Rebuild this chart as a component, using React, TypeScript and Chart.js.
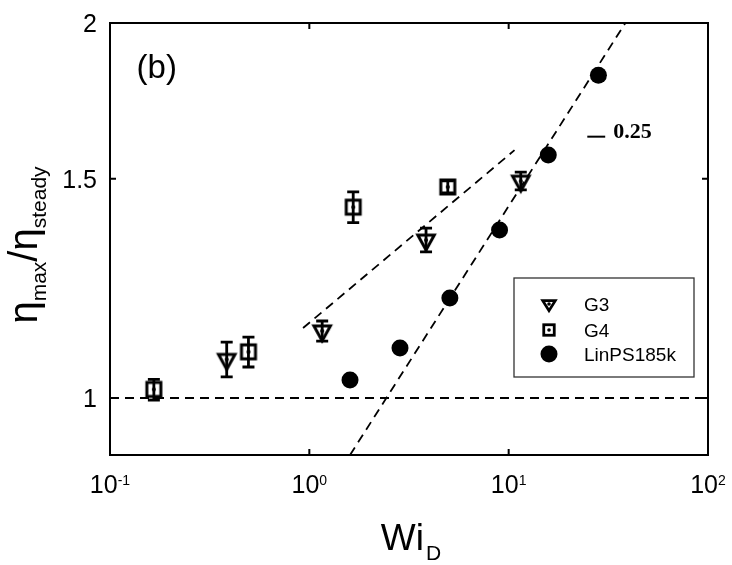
import React, { useEffect, useRef } from 'react';
import { Chart, registerables } from 'chart.js';
Chart.register(...registerables);

// ---- data ----
const g3X = [0.385, 1.16, 3.85, 11.5];
const g3Y = [1.074, 1.132, 1.339, 1.493];
const g3Lo = [1.04, 1.111, 1.31, 1.469];
const g3Hi = [1.109, 1.153, 1.369, 1.518];

const g4X = [0.166, 0.495, 1.66, 4.95];
const g4Y = [1.016, 1.089, 1.423, 1.477];
const g4Lo = [0.996, 1.059, 1.383, 1.461];
const g4Hi = [1.035, 1.119, 1.464, 1.494];

const linX = [1.6, 2.85, 5.07, 9.0, 15.8, 28.2];
const linY = [1.034, 1.097, 1.203, 1.364, 1.567, 1.816];

const refLineX = [0.1, 100];
const refLineY = [1, 1];
const steepFitX = [1.6, 38.5];
const steepFitY = [0.9, 2];
const shallowFitX = [0.93, 10.7];
const shallowFitY = [1.138, 1.581];

const xTickExps = [-1, 0, 1, 2];
const yTicks = [1, 1.5, 2];
const yTickLabels = ['1', '1.5', '2'];

const seriesNames = ['G3', 'G4', 'LinPS185k'];
const panelLabel = '(b)';
const panelLabelAt = [0.136, 1.807];
const slopeLabel = '0.25';
const slopeDashX = [24.8, 30.5];
const slopeLabelAt = [33.5, 1.618];

const SANS = '"Liberation Sans", Arial, sans-serif';
const SERIF = '"Liberation Serif", "Times New Roman", serif';

function pts(xs: number[], ys: number[]) {
  return xs.map((x, i) => ({ x, y: ys[i] }));
}

function makeTriangle(w: number, h: number, lw: number, dotR: number) {
  const c = document.createElement('canvas');
  const size = 2 * Math.ceil((h * 2 + lw * 2 + 4) / 2);
  c.width = size; c.height = size;
  const ctx = c.getContext('2d')!;
  const cx = size / 2, cy = size / 2;
  ctx.lineWidth = lw; ctx.strokeStyle = '#000'; ctx.lineJoin = 'miter';
  ctx.beginPath();
  ctx.moveTo(cx - w / 2, cy - h / 3);
  ctx.lineTo(cx + w / 2, cy - h / 3);
  ctx.lineTo(cx, cy + (2 * h) / 3);
  ctx.closePath();
  ctx.stroke();
  ctx.fillStyle = '#000';
  ctx.beginPath(); ctx.arc(cx, cy, dotR, 0, Math.PI * 2); ctx.fill();
  return c;
}

function makeSquare(s: number, lw: number, dotR: number) {
  const c = document.createElement('canvas');
  const size = 2 * Math.ceil((s + lw * 2 + 4) / 2);
  c.width = size; c.height = size;
  const ctx = c.getContext('2d')!;
  const cx = size / 2, cy = size / 2;
  ctx.lineWidth = lw; ctx.strokeStyle = '#000'; ctx.lineJoin = 'miter';
  ctx.strokeRect(cx - s / 2, cy - s / 2, s, s);
  ctx.fillStyle = '#000';
  ctx.beginPath(); ctx.arc(cx, cy, dotR, 0, Math.PI * 2); ctx.fill();
  return c;
}

export default function App() {
  const ref = useRef<HTMLCanvasElement>(null);
  useEffect(() => {
    const triImg = makeTriangle(16.5, 15, 3, 2);
    const sqImg = makeSquare(14, 3, 2);
    const triLeg = makeTriangle(12.5, 10, 2.8, 1.8);
    const sqLeg = makeSquare(10.5, 2.8, 1.8);

    const errBars = [
      { idx: 0, lo: g3Lo, hi: g3Hi },
      { idx: 1, lo: g4Lo, hi: g4Hi },
    ];

    const plugin = {
      id: 'custom',
      beforeDatasetsDraw(chart: any) {
        const ctx = chart.ctx;
        const xs = chart.scales.x, ys = chart.scales.y;
        ctx.save();
        ctx.strokeStyle = '#000';
        ctx.lineWidth = 2.8;
        errBars.forEach((e) => {
          const data = chart.data.datasets[e.idx].data;
          data.forEach((p: any, i: number) => {
            const px = xs.getPixelForValue(p.x);
            const y1 = ys.getPixelForValue(e.lo[i]);
            const y2 = ys.getPixelForValue(e.hi[i]);
            ctx.beginPath();
            ctx.moveTo(px, y1); ctx.lineTo(px, y2);
            ctx.moveTo(px - 6, y1); ctx.lineTo(px + 6, y1);
            ctx.moveTo(px - 6, y2); ctx.lineTo(px + 6, y2);
            ctx.stroke();
          });
        });
        ctx.restore();
      },
      afterDraw(chart: any) {
        const ctx = chart.ctx;
        const a = chart.chartArea;
        const xs = chart.scales.x, ys = chart.scales.y;
        ctx.save();
        // frame
        ctx.strokeStyle = '#000';
        ctx.lineWidth = 2;
        ctx.strokeRect(a.left, a.top, a.right - a.left, a.bottom - a.top);
        // ticks
        const tl = 6;
        ctx.beginPath();
        xTickExps.forEach((e) => {
          const px = xs.getPixelForValue(Math.pow(10, e));
          ctx.moveTo(px, a.bottom); ctx.lineTo(px, a.bottom - tl);
          ctx.moveTo(px, a.top); ctx.lineTo(px, a.top + tl);
        });
        yTicks.forEach((v) => {
          const py = ys.getPixelForValue(v);
          ctx.moveTo(a.left, py); ctx.lineTo(a.left + tl, py);
          ctx.moveTo(a.right, py); ctx.lineTo(a.right - tl, py);
        });
        ctx.stroke();
        // x tick labels
        ctx.fillStyle = '#000';
        ctx.textBaseline = 'alphabetic';
        ctx.textAlign = 'left';
        xTickExps.forEach((e) => {
          const px = xs.getPixelForValue(Math.pow(10, e));
          ctx.font = `25px ${SANS}`;
          const w1 = ctx.measureText('10').width;
          ctx.font = `14px ${SANS}`;
          const sup = String(e);
          const w2 = ctx.measureText(sup).width;
          const x0 = px - (w1 + w2) / 2;
          ctx.font = `25px ${SANS}`;
          ctx.fillText('10', x0, a.bottom + 38);
          ctx.font = `14px ${SANS}`;
          ctx.fillText(sup, x0 + w1, a.bottom + 30);
        });
        // y tick labels
        ctx.font = `25px ${SANS}`;
        ctx.textAlign = 'right';
        yTicks.forEach((v, i) => {
          const py = ys.getPixelForValue(v);
          ctx.fillText(yTickLabels[i], a.left - 13, py + 9);
        });
        // x title Wi_D
        ctx.textAlign = 'left';
        ctx.font = `37px ${SANS}`;
        const wW = ctx.measureText('Wi').width;
        ctx.font = `21px ${SANS}`;
        const wD = ctx.measureText('D').width;
        const cxT = (a.left + a.right) / 2 + 2;
        const xt0 = cxT - (wW + wD + 2) / 2;
        ctx.font = `37px ${SANS}`;
        ctx.fillText('Wi', xt0, a.bottom + 95);
        ctx.font = `21px ${SANS}`;
        ctx.fillText('D', xt0 + wW + 2, a.bottom + 105);
        // y title
        const parts = [
          { t: '\u03b7', sub: false },
          { t: 'max', sub: true },
          { t: '/', sub: false },
          { t: '\u03b7', sub: false },
          { t: 'steady', sub: true },
        ];
        const mainF = `40px ${SANS}`;
        const subF = `21px ${SANS}`;
        let total = 0;
        const widths = parts.map((p) => {
          ctx.font = p.sub ? subF : mainF;
          const w = ctx.measureText(p.t).width;
          total += w;
          return w;
        });
        ctx.save();
        ctx.translate(37, (a.top + a.bottom) / 2 + 6);
        ctx.rotate(-Math.PI / 2);
        let cx = -total / 2;
        parts.forEach((p, i) => {
          ctx.font = p.sub ? subF : mainF;
          ctx.fillText(p.t, cx, p.sub ? 9 : 0);
          cx += widths[i];
        });
        ctx.restore();
        // panel label
        ctx.font = `33px ${SANS}`;
        ctx.fillText(panelLabel, xs.getPixelForValue(panelLabelAt[0]), ys.getPixelForValue(panelLabelAt[1]));
        // slope label
        const sy = ys.getPixelForValue(slopeLabelAt[1]);
        ctx.lineWidth = 2;
        ctx.beginPath();
        ctx.moveTo(xs.getPixelForValue(slopeDashX[0]), sy - 1);
        ctx.lineTo(xs.getPixelForValue(slopeDashX[1]), sy - 1);
        ctx.stroke();
        ctx.font = `bold 22px ${SERIF}`;
        ctx.fillText(slopeLabel, xs.getPixelForValue(slopeLabelAt[0]), sy);
        // legend
        const lx = a.left + 404, ly = a.top + 255, lw = 180, lh = 99;
        ctx.fillStyle = '#fff';
        ctx.fillRect(lx, ly, lw, lh);
        ctx.strokeStyle = '#333';
        ctx.lineWidth = 1.3;
        ctx.strokeRect(lx, ly, lw, lh);
        const rows = [26, 52, 76];
        const imgs = [triLeg, sqLeg, null];
        ctx.fillStyle = '#000';
        ctx.font = `19px ${SANS}`;
        ctx.textAlign = 'left';
        rows.forEach((ry, i) => {
          const mx = lx + 35, my = ly + ry;
          const img = imgs[i];
          if (img) {
            ctx.drawImage(img, mx - img.width / 2, my - img.height / 2);
          } else {
            ctx.beginPath(); ctx.arc(mx, my, 8.5, 0, Math.PI * 2); ctx.fill();
          }
          ctx.fillText(seriesNames[i], lx + 70, my + 7);
        });
        ctx.restore();
      },
    };

    const chart = new Chart(ref.current!, {
      type: 'scatter',
      data: {
        datasets: [
          { label: seriesNames[0], data: pts(g3X, g3Y), pointStyle: triImg as any, pointRadius: 9 },
          { label: seriesNames[1], data: pts(g4X, g4Y), pointStyle: sqImg as any, pointRadius: 9 },
          {
            label: seriesNames[2], data: pts(linX, linY), pointStyle: 'circle', pointRadius: 8.5,
            backgroundColor: '#000', borderColor: '#000', borderWidth: 0,
          },
          {
            label: 'ref', data: pts(refLineX, refLineY), showLine: true, pointRadius: 0,
            borderColor: '#000', borderWidth: 1.8, borderDash: [9, 6],
          },
          {
            label: 'steep', data: pts(steepFitX, steepFitY), showLine: true, pointRadius: 0,
            borderColor: '#000', borderWidth: 1.8, borderDash: [9, 6],
          },
          {
            label: 'shallow', data: pts(shallowFitX, shallowFitY), showLine: true, pointRadius: 0,
            borderColor: '#000', borderWidth: 1.8, borderDash: [9, 6],
          },
        ],
      },
      options: {
        animation: false,
        responsive: false,
        events: [],
        layout: { padding: { left: 110, top: 23, right: 24, bottom: 110 } },
        plugins: { legend: { display: false }, tooltip: { enabled: false } },
        scales: {
          x: { type: 'logarithmic', min: 0.1, max: 100, display: false },
          y: { type: 'logarithmic', min: 0.9, max: 2, display: false },
        },
      },
      plugins: [plugin],
    });
    return () => chart.destroy();
  }, []);
  return (
    <div style={{ position: 'absolute', left: 0, top: 0, width: 732, height: 565, background: '#fff' }}>
      <canvas ref={ref} width={732} height={565} style={{ display: 'block' }} />
    </div>
  );
}
